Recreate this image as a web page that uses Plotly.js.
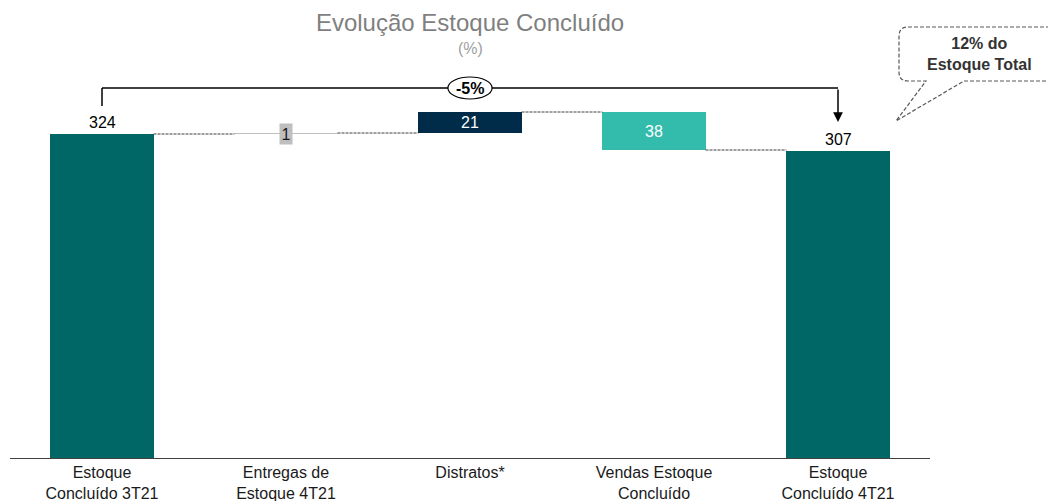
<!DOCTYPE html>
<html>
<head>
<meta charset="utf-8">
<script src="https://cdn.plot.ly/plotly-3.0.1.min.js"></script>
<style>html,body{margin:0;padding:0;background:#fff;}#chart{width:1048px;height:501px;}</style>
</head>
<body>
<div id="chart"></div>
<script>
// ---- data ----
const categories = ['Estoque<br>Concluído 3T21', 'Entregas de<br>Estoque 4T21', 'Distratos*', 'Vendas Estoque<br>Concluído', 'Estoque<br>Concluído 4T21'];
const values = [324, 1, 21, -38, 307];
const measures = ['absolute', 'relative', 'relative', 'relative', 'total'];
const valueLabels = ['324', '1', '21', '38', '307'];
const barColors = ['#006666', '#bfbfbf', '#002b49', '#33bbac', '#006666'];
const titleText = 'Evolução Estoque Concluído';
const subtitleText = '(%)';
const calloutLines = ['12% do', 'Estoque Total'];

// ---- build bars from data ----
const xs = categories.map((_, i) => i);
const bases = [], heights = [], levels = [];
let running = 0;
values.forEach((v, i) => {
  if (measures[i] === 'relative') {
    bases.push(v >= 0 ? running : running + v);
    heights.push(Math.abs(v));
    running += v;
  } else {
    bases.push(0);
    heights.push(v);
    running = v;
  }
  levels.push(running);
});

const font = 'Liberation Sans, Arial, sans-serif';
const BW = 0.56;

const trace = {
  type: 'bar',
  x: xs,
  y: heights,
  base: bases,
  width: BW,
  marker: { color: barColors, line: { width: 0 } },
  hoverinfo: 'skip',
  showlegend: false
};

const shapes = [];
const annotations = [];

// connectors
for (let i = 0; i < values.length - 1; i++) {
  shapes.push({
    type: 'line', xref: 'x', yref: 'y',
    x0: i + BW / 2, x1: i + 1 - BW / 2, y0: levels[i], y1: levels[i],
    line: { color: '#404040', width: 1, dash: '3px,1px' }
  });
}

// value labels
values.forEach((v, i) => {
  const top = bases[i] + heights[i];
  const common = { x: i, xref: 'x', yref: 'y', showarrow: false, xanchor: 'center' };
  if (measures[i] !== 'relative') {
    annotations.push(Object.assign({}, common, { y: top, text: valueLabels[i],
      yanchor: 'bottom', yshift: 1, font: { family: font, size: 16, color: '#000' } }));
  } else if (heights[i] < 5) {
    annotations.push(Object.assign({}, common, { y: bases[i] + heights[i] / 2, text: valueLabels[i], yanchor: 'middle',
      bgcolor: '#bfbfbf', borderpad: 1.5, font: { family: font, size: 16, color: '#1a1a1a' } }));
  } else {
    annotations.push(Object.assign({}, common, { y: bases[i] + heights[i] / 2, text: valueLabels[i], yanchor: 'middle',
      font: { family: font, size: 16, color: '#ffffff' } }));
  }
});

// bracket with percentage change
const startV = values[0], endV = values[values.length - 1];
const last = values.length - 1;
const bracketY = Math.max(...levels) + 24;
shapes.push({ type: 'line', xref: 'x', yref: 'y', x0: 0, x1: 0, y0: startV + 28, y1: bracketY, line: { color: '#000', width: 1.5 } });
shapes.push({ type: 'line', xref: 'x', yref: 'y', x0: 0, x1: last, y0: bracketY, y1: bracketY, line: { color: '#000', width: 1.5 } });
annotations.push({ x: last, y: endV + 29, xref: 'x', yref: 'y', ax: last, ay: bracketY, axref: 'x', ayref: 'y',
  showarrow: true, arrowhead: 2, arrowsize: 1.3, arrowwidth: 1.5, arrowcolor: '#000', text: '' });
const pct = Math.round((endV - startV) / startV * 100);
shapes.push({ type: 'circle', xref: 'x', yref: 'y', x0: 2 - 0.12, x1: 2 + 0.12, y0: bracketY - 11, y1: bracketY + 11,
  fillcolor: '#ffffff', line: { color: '#000', width: 1.2 } });
annotations.push({ x: 2, y: bracketY, xref: 'x', yref: 'y', text: '<b>' + pct + '%</b>', showarrow: false,
  xanchor: 'center', yanchor: 'middle', font: { family: font, size: 16, color: '#000' } });

// subtitle
annotations.push({ x: 0.5, y: 1.025, xref: 'paper', yref: 'paper', text: subtitleText, showarrow: false,
  xanchor: 'center', yanchor: 'middle', font: { family: font, size: 16, color: '#a0a0a0' } });

// callout bubble (paper coords: plot area x 10..930, y 458..58)
const px = p => (p - 10) / 920;
const py = p => (458 - p) / 400;
const L = 899, T = 27, B = 81, R = 1070, r = 9;
const path = [
  'M', px(964), py(B), 'L', px(R), py(B), 'L', px(R), py(T), 'L', px(L + r), py(T),
  'Q', px(L), py(T), px(L), py(T + r), 'L', px(L), py(B - r),
  'Q', px(L), py(B), px(L + r), py(B), 'L', px(926), py(B),
  'L', px(896), py(121), 'Z'
].join(' ');
shapes.push({ type: 'path', xref: 'paper', yref: 'paper', path: path, fillcolor: 'rgba(255,255,255,0)',
  line: { color: '#595959', width: 1.2, dash: '4px,2px' } });
annotations.push({ x: px(979), y: py(54), xref: 'paper', yref: 'paper', text: '<b>' + calloutLines.join('<br>') + '</b>',
  showarrow: false, align: 'center', xanchor: 'center', yanchor: 'middle', font: { family: font, size: 16, color: '#333333' } });

const layout = {
  width: 1048, height: 501,
  margin: { l: 10, r: 118, t: 58, b: 43 },
  paper_bgcolor: '#ffffff', plot_bgcolor: '#ffffff',
  title: { text: titleText, x: 470 / 1048, xanchor: 'center', xref: 'container', y: 1 - 23 / 501, yanchor: 'middle', yref: 'container',
    font: { family: font, size: 24, color: '#7f7f7f' } },
  xaxis: { range: [-0.5, 4.5], tickmode: 'array', tickvals: xs, ticktext: categories, showgrid: false, zeroline: false,
    showline: true, linecolor: '#404040', linewidth: 1, ticks: '', tickfont: { family: font, size: 16, color: '#1a1a1a' }, fixedrange: true },
  yaxis: { range: [0, 400], visible: false, showgrid: false, zeroline: false, fixedrange: true },
  bargap: 0,
  shapes: shapes,
  annotations: annotations,
  font: { family: font }
};

Plotly.newPlot('chart', [trace], layout, { staticPlot: true, displayModeBar: false });
</script>
</body>
</html>
